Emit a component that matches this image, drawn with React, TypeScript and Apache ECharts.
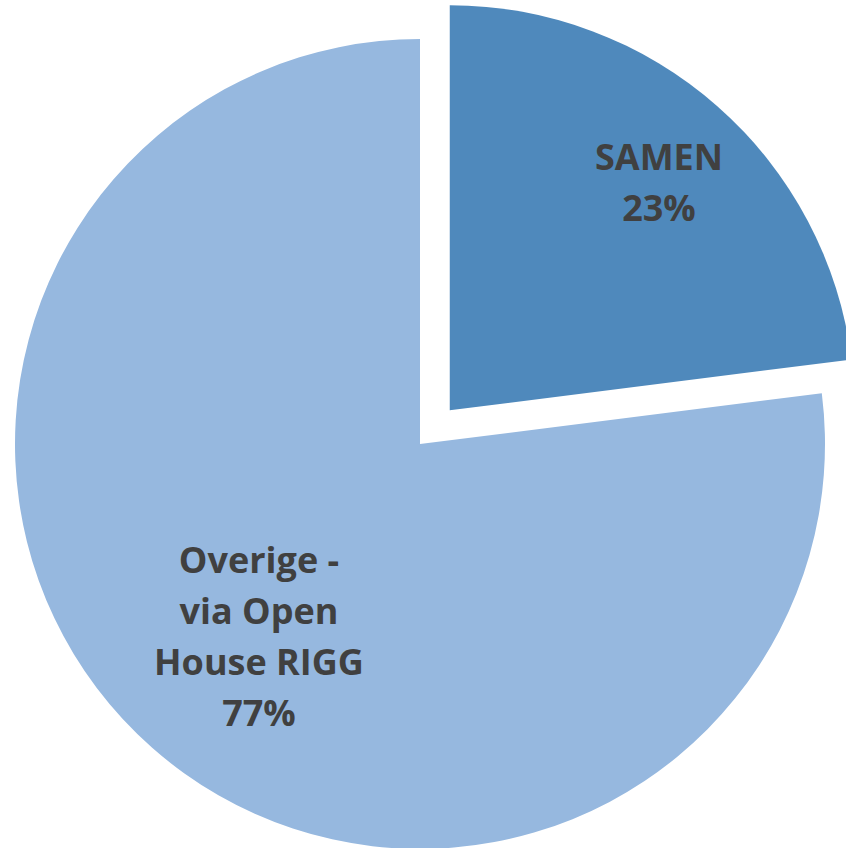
import React, { useEffect, useRef } from "react";
import * as echarts from "echarts";

const categories = ["SAMEN", "Overige -\nvia Open\nHouse RIGG"];
const values = [23, 77];
const colors = ["#4F89BC", "#96B8DF"];
const labelPos = [
  [659, 182],
  [259, 636],
];

export default function App() {
  const ref = useRef<HTMLDivElement>(null);
  useEffect(() => {
    if (!ref.current) return;
    const chart = echarts.init(ref.current, undefined, { renderer: "svg" });
    const total = values.reduce((a, b) => a + b, 0);
    const cx = 420;
    const cy = 444;
    const explode = 45;
    const midDeg = 90 - (360 * values[0]) / total / 2;
    const mid = (midDeg * Math.PI) / 180;
    const ex = cx + explode * Math.cos(mid);
    const ey = cy - explode * Math.sin(mid);

    const makeSeries = (idx: number, center: number[]) => ({
      type: "pie",
      center,
      radius: 405,
      startAngle: 90,
      clockwise: true,
      silent: true,
      avoidLabelOverlap: false,
      emphasis: { disabled: true },
      label: {
        show: true,
        position: "inside",
        formatter: (p: any) => `${p.name}\n${p.value}%`,
        color: "#404040",
        fontFamily: "Open Sans",
        fontWeight: "bold",
        fontSize: 36,
        lineHeight: 51,
        align: "center",
      },
      labelLine: { show: false },
      labelLayout: (p: any) => ({
        x: labelPos[p.dataIndex][0],
        y: labelPos[p.dataIndex][1],
        align: "center",
        verticalAlign: "middle",
      }),
      itemStyle: { borderWidth: 0 },
      data: categories.map((c, i) => ({
        name: c,
        value: values[i],
        itemStyle: { color: i === idx ? colors[i] : "transparent" },
        label: { show: i === idx },
      })),
    });

    chart.setOption({
      animation: false,
      series: [makeSeries(1, [cx, cy]), makeSeries(0, [ex, ey])],
    });
    return () => chart.dispose();
  }, []);
  return (
    <div
      ref={ref}
      style={{ position: "fixed", left: 0, top: 0, width: 846, height: 848, background: "#fff" }}
    />
  );
}
